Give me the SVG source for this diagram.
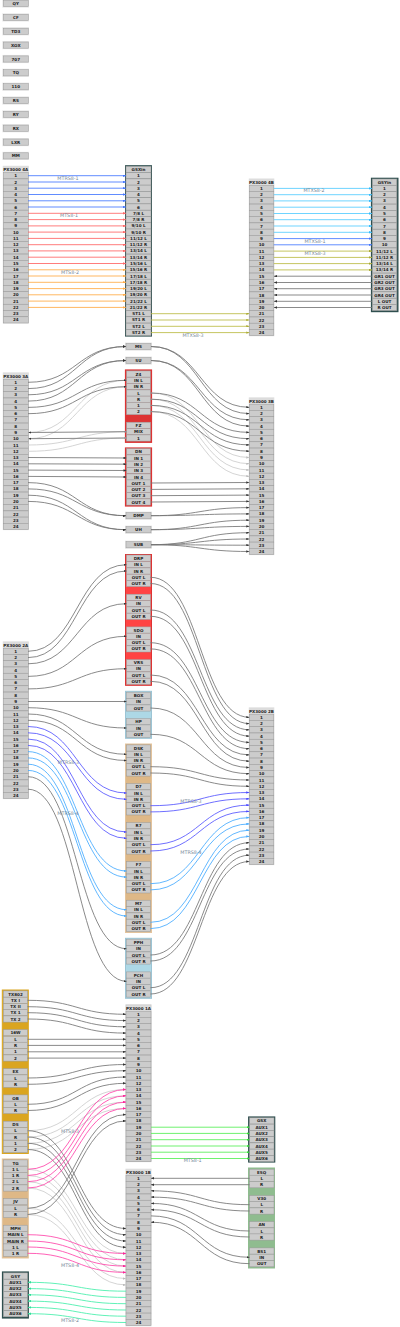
<svg xmlns="http://www.w3.org/2000/svg" width="400" height="1327" viewBox="0 0 400 1327">
<style>
text{font-family:"DejaVu Sans",sans-serif;font-size:4.1px;font-weight:bold;fill:#222;text-anchor:middle}
text.l{font-weight:normal;font-size:4.8px;fill:#778899}
.n rect{fill:#ccc;stroke:#999;stroke-width:.5}
.n rect.h{fill:#e8e8e8;stroke:#e8e8e8;stroke-width:1}
.n rect.p{fill:#ddd;stroke:#ddd;stroke-width:1}
.n rect.r{fill:#d33;stroke:#d33;stroke-width:1.2}
.n rect.f{fill:#f44;stroke:#d33;stroke-width:1}
.n rect.b{fill:#add8e6;stroke:#9cc4d4;stroke-width:1}
.n rect.t{fill:#deb887;stroke:#e3c39c;stroke-width:1}
.n rect.g{fill:#daa520;stroke:#daa520;stroke-width:1}
.n rect.d{fill:#2f4f4f;stroke:#2f4f4f;stroke-width:1.2}
.n rect.s{fill:#8fbc8f;stroke:#8fbc8f;stroke-width:1}
#links path{fill:none;stroke-width:.85}
.k{stroke:#757575;marker-end:url(#ak)}.w{stroke:#ccc;marker-end:url(#aw)}.u{stroke:#47f;marker-end:url(#au)}.e{stroke:#f66;marker-end:url(#ae)}.o{stroke:#fa4;marker-end:url(#ao)}.y{stroke:#bb4;marker-end:url(#ay)}.c{stroke:#5cf;marker-end:url(#ac)}.v{stroke:#55f;marker-end:url(#av)}.a{stroke:#4af;marker-end:url(#aa)}.m{stroke:#f4a;marker-end:url(#am)}.q{stroke:#5e5;marker-end:url(#aq)}.z{stroke:#4ea;marker-end:url(#az)}
</style>
<defs>
<marker id="ak" markerUnits="userSpaceOnUse" markerWidth="3" markerHeight="2.4" refX="3" refY="1.2" orient="auto"><path d="M0 0L3 1.2L0 2.4z" fill="#333"/></marker>
<marker id="aw" markerUnits="userSpaceOnUse" markerWidth="3" markerHeight="2.4" refX="3" refY="1.2" orient="auto"><path d="M0 0L3 1.2L0 2.4z" fill="#bbb"/></marker>
<marker id="au" markerUnits="userSpaceOnUse" markerWidth="3" markerHeight="2.4" refX="3" refY="1.2" orient="auto"><path d="M0 0L3 1.2L0 2.4z" fill="#47f"/></marker>
<marker id="ae" markerUnits="userSpaceOnUse" markerWidth="3" markerHeight="2.4" refX="3" refY="1.2" orient="auto"><path d="M0 0L3 1.2L0 2.4z" fill="#f66"/></marker>
<marker id="ao" markerUnits="userSpaceOnUse" markerWidth="3" markerHeight="2.4" refX="3" refY="1.2" orient="auto"><path d="M0 0L3 1.2L0 2.4z" fill="#fa4"/></marker>
<marker id="ay" markerUnits="userSpaceOnUse" markerWidth="3" markerHeight="2.4" refX="3" refY="1.2" orient="auto"><path d="M0 0L3 1.2L0 2.4z" fill="#aa3"/></marker>
<marker id="ac" markerUnits="userSpaceOnUse" markerWidth="3" markerHeight="2.4" refX="3" refY="1.2" orient="auto"><path d="M0 0L3 1.2L0 2.4z" fill="#3bf"/></marker>
<marker id="av" markerUnits="userSpaceOnUse" markerWidth="3" markerHeight="2.4" refX="3" refY="1.2" orient="auto"><path d="M0 0L3 1.2L0 2.4z" fill="#44f"/></marker>
<marker id="aa" markerUnits="userSpaceOnUse" markerWidth="3" markerHeight="2.4" refX="3" refY="1.2" orient="auto"><path d="M0 0L3 1.2L0 2.4z" fill="#4af"/></marker>
<marker id="am" markerUnits="userSpaceOnUse" markerWidth="3" markerHeight="2.4" refX="3" refY="1.2" orient="auto"><path d="M0 0L3 1.2L0 2.4z" fill="#f29"/></marker>
<marker id="aq" markerUnits="userSpaceOnUse" markerWidth="3" markerHeight="2.4" refX="3" refY="1.2" orient="auto"><path d="M0 0L3 1.2L0 2.4z" fill="#3d3"/></marker>
<marker id="az" markerUnits="userSpaceOnUse" markerWidth="3" markerHeight="2.4" refX="3" refY="1.2" orient="auto"><path d="M0 0L3 1.2L0 2.4z" fill="#3d9"/></marker>
</defs>
<g class="n" id="QY"><rect class="h" x="2.8" y="-.1" width="25.7" height="7.2"/><rect x="3.3" y=".4" width="25" height="6.2"/><text x="15.8" y="5">QY</text></g>
<g class="n" id="CF"><rect class="h" x="2.8" y="13.8" width="25.7" height="7.2"/><rect x="3.3" y="14.3" width="25" height="6.2"/><text x="15.8" y="18.9">CF</text></g>
<g class="n" id="TD3"><rect class="h" x="2.8" y="27.7" width="25.7" height="7.2"/><rect x="3.3" y="28.2" width="25" height="6.2"/><text x="15.8" y="32.8">TD3</text></g>
<g class="n" id="XOX"><rect class="h" x="2.8" y="41.5" width="25.7" height="7.2"/><rect x="3.3" y="42" width="25" height="6.2"/><text x="15.8" y="46.6">XOX</text></g>
<g class="n" id="N707"><rect class="h" x="2.8" y="55.4" width="25.7" height="7.2"/><rect x="3.3" y="55.9" width="25" height="6.2"/><text x="15.8" y="60.5">707</text></g>
<g class="n" id="TQ"><rect class="h" x="2.8" y="69.2" width="25.7" height="7.2"/><rect x="3.3" y="69.7" width="25" height="6.2"/><text x="15.8" y="74.3">TQ</text></g>
<g class="n" id="N110"><rect class="h" x="2.8" y="83.1" width="25.7" height="7.2"/><rect x="3.3" y="83.6" width="25" height="6.2"/><text x="15.8" y="88.2">110</text></g>
<g class="n" id="RS"><rect class="h" x="2.8" y="96.9" width="25.7" height="7.2"/><rect x="3.3" y="97.4" width="25" height="6.2"/><text x="15.8" y="102">RS</text></g>
<g class="n" id="RY"><rect class="h" x="2.8" y="110.8" width="25.7" height="7.2"/><rect x="3.3" y="111.3" width="25" height="6.2"/><text x="15.8" y="115.9">RY</text></g>
<g class="n" id="RX"><rect class="h" x="2.8" y="124.6" width="25.7" height="7.2"/><rect x="3.3" y="125.1" width="25" height="6.2"/><text x="15.8" y="129.7">RX</text></g>
<g class="n" id="LXR"><rect class="h" x="2.8" y="138.5" width="25.7" height="7.2"/><rect x="3.3" y="139" width="25" height="6.2"/><text x="15.8" y="143.6">LXR</text></g>
<g class="n" id="MM"><rect class="h" x="2.8" y="152.3" width="25.7" height="7.2"/><rect x="3.3" y="152.8" width="25" height="6.2"/><text x="15.8" y="157.4">MM</text></g>

<g class="n" id="PX4A" transform="translate(3.3,0)"><rect class="p" y="166.3" width="25" height="156.7"/><text x="12.5" y="170.9">PX3000 4A</text>
<rect y="172.6" width="25" height="6.2"/><text x="12.5" y="177.2">1</text><rect y="178.9" width="25" height="6.2"/><text x="12.5" y="183.5">2</text><rect y="185.1" width="25" height="6.2"/><text x="12.5" y="189.7">3</text><rect y="191.4" width="25" height="6.2"/><text x="12.5" y="196">4</text><rect y="197.7" width="25" height="6.2"/><text x="12.5" y="202.3">5</text><rect y="203.9" width="25" height="6.2"/><text x="12.5" y="208.5">6</text><rect y="210.2" width="25" height="6.2"/><text x="12.5" y="214.8">7</text><rect y="216.5" width="25" height="6.2"/><text x="12.5" y="221.1">8</text><rect y="222.8" width="25" height="6.2"/><text x="12.5" y="227.4">9</text><rect y="229" width="25" height="6.2"/><text x="12.5" y="233.6">10</text><rect y="235.3" width="25" height="6.2"/><text x="12.5" y="239.9">11</text><rect y="241.6" width="25" height="6.2"/><text x="12.5" y="246.2">12</text><rect y="247.8" width="25" height="6.2"/><text x="12.5" y="252.4">13</text><rect y="254.1" width="25" height="6.2"/><text x="12.5" y="258.7">14</text><rect y="260.4" width="25" height="6.2"/><text x="12.5" y="265">15</text><rect y="266.7" width="25" height="6.2"/><text x="12.5" y="271.3">16</text><rect y="272.9" width="25" height="6.2"/><text x="12.5" y="277.5">17</text><rect y="279.2" width="25" height="6.2"/><text x="12.5" y="283.8">18</text><rect y="285.5" width="25" height="6.2"/><text x="12.5" y="290.1">19</text><rect y="291.7" width="25" height="6.2"/><text x="12.5" y="296.3">20</text><rect y="298" width="25" height="6.2"/><text x="12.5" y="302.6">21</text><rect y="304.3" width="25" height="6.2"/><text x="12.5" y="308.9">22</text><rect y="310.5" width="25" height="6.2"/><text x="12.5" y="315.1">23</text><rect y="316.8" width="25" height="6.2"/><text x="12.5" y="321.4">24</text></g>

<g class="n" id="GSXin" transform="translate(126,0)"><rect class="d" x="-.4" y="165.8" width="25.8" height="170.2"/><rect y="166.3" width="25" height="6.2"/><text x="12.5" y="170.9">GSXin</text>
<rect y="172.6" width="25" height="6.2"/><text x="12.5" y="177.2">1</text><rect y="178.9" width="25" height="6.2"/><text x="12.5" y="183.5">2</text><rect y="185.1" width="25" height="6.2"/><text x="12.5" y="189.7">3</text><rect y="191.4" width="25" height="6.2"/><text x="12.5" y="196">4</text><rect y="197.7" width="25" height="6.2"/><text x="12.5" y="202.3">5</text><rect y="203.9" width="25" height="6.2"/><text x="12.5" y="208.5">6</text><rect y="210.2" width="25" height="6.2"/><text x="12.5" y="214.8">7/8 L</text><rect y="216.5" width="25" height="6.2"/><text x="12.5" y="221.1">7/8 R</text><rect y="222.8" width="25" height="6.2"/><text x="12.5" y="227.4">9/10 L</text><rect y="229" width="25" height="6.2"/><text x="12.5" y="233.6">9/10 R</text><rect y="235.3" width="25" height="6.2"/><text x="12.5" y="239.9">11/12 L</text><rect y="241.6" width="25" height="6.2"/><text x="12.5" y="246.2">11/12 R</text><rect y="247.8" width="25" height="6.2"/><text x="12.5" y="252.4">13/14 L</text><rect y="254.1" width="25" height="6.2"/><text x="12.5" y="258.7">13/14 R</text><rect y="260.4" width="25" height="6.2"/><text x="12.5" y="265">15/16 L</text><rect y="266.7" width="25" height="6.2"/><text x="12.5" y="271.3">15/16 R</text><rect y="272.9" width="25" height="6.2"/><text x="12.5" y="277.5">17/18 L</text><rect y="279.2" width="25" height="6.2"/><text x="12.5" y="283.8">17/18 R</text><rect y="285.5" width="25" height="6.2"/><text x="12.5" y="290.1">19/20 L</text><rect y="291.7" width="25" height="6.2"/><text x="12.5" y="296.3">19/20 R</text><rect y="298" width="25" height="6.2"/><text x="12.5" y="302.6">21/22 L</text><rect y="304.3" width="25" height="6.2"/><text x="12.5" y="308.9">21/22 R</text><rect y="310.5" width="25" height="6.2"/><text x="12.5" y="315.1">ST1 L</text><rect y="316.8" width="25" height="6.2"/><text x="12.5" y="321.4">ST1 R</text><rect y="323.1" width="25" height="6.2"/><text x="12.5" y="327.7">ST2 L</text><rect y="329.4" width="25" height="6.2"/><text x="12.5" y="334">ST2 R</text></g>

<g class="n" id="PX4B" transform="translate(249.3,0)"><rect class="p" y="179" width="24.5" height="156.7"/><text x="12.2" y="183.6">PX3000 4B</text>
<rect y="185.3" width="24.5" height="6.2"/><text x="12.2" y="189.9">1</text><rect y="191.6" width="24.5" height="6.2"/><text x="12.2" y="196.2">2</text><rect y="197.8" width="24.5" height="6.2"/><text x="12.2" y="202.4">3</text><rect y="204.1" width="24.5" height="6.2"/><text x="12.2" y="208.7">4</text><rect y="210.4" width="24.5" height="6.2"/><text x="12.2" y="215">5</text><rect y="216.6" width="24.5" height="6.2"/><text x="12.2" y="221.2">6</text><rect y="222.9" width="24.5" height="6.2"/><text x="12.2" y="227.5">7</text><rect y="229.2" width="24.5" height="6.2"/><text x="12.2" y="233.8">8</text><rect y="235.5" width="24.5" height="6.2"/><text x="12.2" y="240.1">9</text><rect y="241.7" width="24.5" height="6.2"/><text x="12.2" y="246.3">10</text><rect y="248" width="24.5" height="6.2"/><text x="12.2" y="252.6">11</text><rect y="254.3" width="24.5" height="6.2"/><text x="12.2" y="258.9">12</text><rect y="260.5" width="24.5" height="6.2"/><text x="12.2" y="265.1">13</text><rect y="266.8" width="24.5" height="6.2"/><text x="12.2" y="271.4">14</text><rect y="273.1" width="24.5" height="6.2"/><text x="12.2" y="277.7">15</text><rect y="279.4" width="24.5" height="6.2"/><text x="12.2" y="284">16</text><rect y="285.6" width="24.5" height="6.2"/><text x="12.2" y="290.2">17</text><rect y="291.9" width="24.5" height="6.2"/><text x="12.2" y="296.5">18</text><rect y="298.2" width="24.5" height="6.2"/><text x="12.2" y="302.8">19</text><rect y="304.4" width="24.5" height="6.2"/><text x="12.2" y="309">20</text><rect y="310.7" width="24.5" height="6.2"/><text x="12.2" y="315.3">21</text><rect y="317" width="24.5" height="6.2"/><text x="12.2" y="321.6">22</text><rect y="323.2" width="24.5" height="6.2"/><text x="12.2" y="327.8">23</text><rect y="329.5" width="24.5" height="6.2"/><text x="12.2" y="334.1">24</text></g>

<g class="n" id="GSYin" transform="translate(372.3,0)"><rect class="d" x="-.8" y="178.3" width="26.4" height="133.3"/><rect y="179" width="24.5" height="6.2"/><text x="12.2" y="183.6">GSYin</text>
<rect y="185.3" width="24.5" height="6.2"/><text x="12.2" y="189.9">1</text><rect y="191.6" width="24.5" height="6.2"/><text x="12.2" y="196.2">2</text><rect y="197.8" width="24.5" height="6.2"/><text x="12.2" y="202.4">3</text><rect y="204.1" width="24.5" height="6.2"/><text x="12.2" y="208.7">4</text><rect y="210.4" width="24.5" height="6.2"/><text x="12.2" y="215">5</text><rect y="216.6" width="24.5" height="6.2"/><text x="12.2" y="221.2">6</text><rect y="222.9" width="24.5" height="6.2"/><text x="12.2" y="227.5">7</text><rect y="229.2" width="24.5" height="6.2"/><text x="12.2" y="233.8">8</text><rect y="235.5" width="24.5" height="6.2"/><text x="12.2" y="240.1">9</text><rect y="241.7" width="24.5" height="6.2"/><text x="12.2" y="246.3">10</text><rect y="248" width="24.5" height="6.2"/><text x="12.2" y="252.6">11/12 L</text><rect y="254.3" width="24.5" height="6.2"/><text x="12.2" y="258.9">11/12 R</text><rect y="260.5" width="24.5" height="6.2"/><text x="12.2" y="265.1">13/14 L</text><rect y="266.8" width="24.5" height="6.2"/><text x="12.2" y="271.4">13/14 R</text><rect y="273.1" width="24.5" height="6.2"/><text x="12.2" y="277.7">GR1 OUT</text><rect y="279.4" width="24.5" height="6.2"/><text x="12.2" y="284">GR2 OUT</text><rect y="285.6" width="24.5" height="6.2"/><text x="12.2" y="290.2">GR3 OUT</text><rect y="291.9" width="24.5" height="6.2"/><text x="12.2" y="296.5">GR4 OUT</text><rect y="298.2" width="24.5" height="6.2"/><text x="12.2" y="302.8">L OUT</text><rect y="304.4" width="24.5" height="6.2"/><text x="12.2" y="309">R OUT</text></g>

<g class="n" id="MS"><rect class="h" x="125.5" y="343" width="26" height="7.2"/><rect x="126" y="343.4" width="25" height="6.2"/><text x="138.5" y="348">MS</text></g>
<g class="n" id="SU"><rect class="h" x="125.5" y="357" width="26" height="7.2"/><rect x="126" y="357.4" width="25" height="6.2"/><text x="138.5" y="362">SU</text></g>

<g class="n" id="PX3A" transform="translate(3.3,0)"><rect class="p" y="372.9" width="25" height="156.7"/><text x="12.5" y="377.5">PX3000 3A</text>
<rect y="379.2" width="25" height="6.2"/><text x="12.5" y="383.8">1</text><rect y="385.5" width="25" height="6.2"/><text x="12.5" y="390.1">2</text><rect y="391.7" width="25" height="6.2"/><text x="12.5" y="396.3">3</text><rect y="398" width="25" height="6.2"/><text x="12.5" y="402.6">4</text><rect y="404.3" width="25" height="6.2"/><text x="12.5" y="408.9">5</text><rect y="410.6" width="25" height="6.2"/><text x="12.5" y="415.2">6</text><rect y="416.8" width="25" height="6.2"/><text x="12.5" y="421.4">7</text><rect y="423.1" width="25" height="6.2"/><text x="12.5" y="427.7">8</text><rect y="429.4" width="25" height="6.2"/><text x="12.5" y="434">9</text><rect y="435.6" width="25" height="6.2"/><text x="12.5" y="440.2">10</text><rect y="441.9" width="25" height="6.2"/><text x="12.5" y="446.5">11</text><rect y="448.2" width="25" height="6.2"/><text x="12.5" y="452.8">12</text><rect y="454.4" width="25" height="6.2"/><text x="12.5" y="459">13</text><rect y="460.7" width="25" height="6.2"/><text x="12.5" y="465.3">14</text><rect y="467" width="25" height="6.2"/><text x="12.5" y="471.6">15</text><rect y="473.3" width="25" height="6.2"/><text x="12.5" y="477.9">16</text><rect y="479.5" width="25" height="6.2"/><text x="12.5" y="484.1">17</text><rect y="485.8" width="25" height="6.2"/><text x="12.5" y="490.4">18</text><rect y="492.1" width="25" height="6.2"/><text x="12.5" y="496.7">19</text><rect y="498.3" width="25" height="6.2"/><text x="12.5" y="502.9">20</text><rect y="504.6" width="25" height="6.2"/><text x="12.5" y="509.2">21</text><rect y="510.9" width="25" height="6.2"/><text x="12.5" y="515.5">22</text><rect y="517.1" width="25" height="6.2"/><text x="12.5" y="521.7">23</text><rect y="523.4" width="25" height="6.2"/><text x="12.5" y="528">24</text></g>

<g class="n" id="Z4" transform="translate(126.5,0)"><rect class="r" x="-1" y="370" width="26" height="72.3"/><rect y="370.9" width="24" height="6.2"/><text x="12" y="375.5">Z4</text><rect y="377.2" width="24" height="6.2"/><text x="12" y="381.8">IN L</text><rect y="383.5" width="24" height="6.2"/><text x="12" y="388.1">IN R</text><rect y="389.9" width="24" height="6.2"/><text x="12" y="394.5">L</text><rect y="396.1" width="24" height="6.2"/><text x="12" y="400.7">R</text><rect y="402.3" width="24" height="6.2"/><text x="12" y="406.9">1</text><rect y="408.5" width="24" height="6.2"/><text x="12" y="413.1">2</text></g>
<g class="n" id="FZ" transform="translate(126.5,0)"><rect y="422.2" width="24" height="6.2"/><text x="12" y="426.8">FZ</text><rect y="428.6" width="24" height="6.2"/><text x="12" y="433.2">MIX</text><rect y="434.9" width="24" height="6.2"/><text x="12" y="439.5">1</text></g>
<g class="n" id="DN" transform="translate(126.5,0)"><rect class="r" x="-1" y="448" width="26" height="58"/><rect y="448.6" width="24" height="6.2"/><text x="12" y="453.2">DN</text><rect y="454.9" width="24" height="6.2"/><text x="12" y="459.5">IN 1</text><rect y="461.1" width="24" height="6.2"/><text x="12" y="465.7">IN 2</text><rect y="467.4" width="24" height="6.2"/><text x="12" y="472">IN 3</text><rect y="473.9" width="24" height="6.2"/><text x="12" y="478.5">IN 4</text><rect y="479.9" width="24" height="6.2"/><text x="12" y="484.5">OUT 1</text><rect y="486.3" width="24" height="6.2"/><text x="12" y="490.9">OUT 2</text><rect y="492.6" width="24" height="6.2"/><text x="12" y="497.2">OUT 3</text><rect y="498.9" width="24" height="6.2"/><text x="12" y="503.5">OUT 4</text></g>
<g class="n" id="DMP"><rect class="h" x="125.5" y="512.1" width="26" height="7.2"/><rect x="126" y="512.6" width="25" height="6.2"/><text x="138.5" y="517.2">DMP</text></g>
<g class="n" id="UH"><rect class="h" x="125.5" y="526.1" width="26" height="7.2"/><rect x="126" y="526.6" width="25" height="6.2"/><text x="138.5" y="531.2">UH</text></g>
<g class="n" id="SUB"><rect class="h" x="125.5" y="541.1" width="26" height="7.2"/><rect x="126" y="541.6" width="25" height="6.2"/><text x="138.5" y="546.2">SUB</text></g>

<g class="n" id="PX3B" transform="translate(249.3,0)"><rect class="p" y="397.9" width="24.5" height="156.7"/><text x="12.2" y="402.5">PX3000 3B</text>
<rect y="404.2" width="24.5" height="6.2"/><text x="12.2" y="408.8">1</text><rect y="410.5" width="24.5" height="6.2"/><text x="12.2" y="415.1">2</text><rect y="416.7" width="24.5" height="6.2"/><text x="12.2" y="421.3">3</text><rect y="423" width="24.5" height="6.2"/><text x="12.2" y="427.6">4</text><rect y="429.3" width="24.5" height="6.2"/><text x="12.2" y="433.9">5</text><rect y="435.6" width="24.5" height="6.2"/><text x="12.2" y="440.2">6</text><rect y="441.8" width="24.5" height="6.2"/><text x="12.2" y="446.4">7</text><rect y="448.1" width="24.5" height="6.2"/><text x="12.2" y="452.7">8</text><rect y="454.4" width="24.5" height="6.2"/><text x="12.2" y="459">9</text><rect y="460.6" width="24.5" height="6.2"/><text x="12.2" y="465.2">10</text><rect y="466.9" width="24.5" height="6.2"/><text x="12.2" y="471.5">11</text><rect y="473.2" width="24.5" height="6.2"/><text x="12.2" y="477.8">12</text><rect y="479.4" width="24.5" height="6.2"/><text x="12.2" y="484">13</text><rect y="485.7" width="24.5" height="6.2"/><text x="12.2" y="490.3">14</text><rect y="492" width="24.5" height="6.2"/><text x="12.2" y="496.6">15</text><rect y="498.3" width="24.5" height="6.2"/><text x="12.2" y="502.9">16</text><rect y="504.5" width="24.5" height="6.2"/><text x="12.2" y="509.1">17</text><rect y="510.8" width="24.5" height="6.2"/><text x="12.2" y="515.4">18</text><rect y="517.1" width="24.5" height="6.2"/><text x="12.2" y="521.7">19</text><rect y="523.3" width="24.5" height="6.2"/><text x="12.2" y="527.9">20</text><rect y="529.6" width="24.5" height="6.2"/><text x="12.2" y="534.2">21</text><rect y="535.9" width="24.5" height="6.2"/><text x="12.2" y="540.5">22</text><rect y="542.1" width="24.5" height="6.2"/><text x="12.2" y="546.7">23</text><rect y="548.4" width="24.5" height="6.2"/><text x="12.2" y="553">24</text></g>

<g class="n" id="DRP" transform="translate(126.5,0)"><rect class="f" x="-1" y="554.5" width="26" height="130.8"/><rect y="555" width="24" height="6.2"/><text x="12" y="559.6">DRP</text><rect y="561.6" width="24" height="6.2"/><text x="12" y="566.2">IN L</text><rect y="567.9" width="24" height="6.2"/><text x="12" y="572.5">IN R</text><rect y="574.2" width="24" height="6.2"/><text x="12" y="578.8">OUT L</text><rect y="580.4" width="24" height="6.2"/><text x="12" y="585">OUT R</text></g>
<g class="n" id="RV" transform="translate(126.5,0)"><rect y="594.2" width="24" height="6.2"/><text x="12" y="598.8">RV</text><rect y="600.6" width="24" height="6.2"/><text x="12" y="605.2">IN</text><rect y="606.9" width="24" height="6.2"/><text x="12" y="611.5">OUT L</text><rect y="613.2" width="24" height="6.2"/><text x="12" y="617.8">OUT R</text></g>
<g class="n" id="SDO" transform="translate(126.5,0)"><rect y="626.9" width="24" height="6.2"/><text x="12" y="631.5">SDO</text><rect y="633.2" width="24" height="6.2"/><text x="12" y="637.8">IN</text><rect y="639.6" width="24" height="6.2"/><text x="12" y="644.2">OUT L</text><rect y="645.8" width="24" height="6.2"/><text x="12" y="650.4">OUT R</text></g>
<g class="n" id="VRS" transform="translate(126.5,0)"><rect y="659.6" width="24" height="6.2"/><text x="12" y="664.2">VRS</text><rect y="665.6" width="24" height="6.2"/><text x="12" y="670.2">IN</text><rect y="671.9" width="24" height="6.2"/><text x="12" y="676.5">OUT L</text><rect y="678.2" width="24" height="6.2"/><text x="12" y="682.8">OUT R</text></g>

<g class="n" id="PX2A" transform="translate(3.3,0)"><rect class="p" y="641.9" width="25" height="156.7"/><text x="12.5" y="646.5">PX3000 2A</text>
<rect y="648.2" width="25" height="6.2"/><text x="12.5" y="652.8">1</text><rect y="654.5" width="25" height="6.2"/><text x="12.5" y="659.1">2</text><rect y="660.7" width="25" height="6.2"/><text x="12.5" y="665.3">3</text><rect y="667" width="25" height="6.2"/><text x="12.5" y="671.6">4</text><rect y="673.3" width="25" height="6.2"/><text x="12.5" y="677.9">5</text><rect y="679.6" width="25" height="6.2"/><text x="12.5" y="684.2">6</text><rect y="685.8" width="25" height="6.2"/><text x="12.5" y="690.4">7</text><rect y="692.1" width="25" height="6.2"/><text x="12.5" y="696.7">8</text><rect y="698.4" width="25" height="6.2"/><text x="12.5" y="703">9</text><rect y="704.6" width="25" height="6.2"/><text x="12.5" y="709.2">10</text><rect y="710.9" width="25" height="6.2"/><text x="12.5" y="715.5">11</text><rect y="717.2" width="25" height="6.2"/><text x="12.5" y="721.8">12</text><rect y="723.4" width="25" height="6.2"/><text x="12.5" y="728">13</text><rect y="729.7" width="25" height="6.2"/><text x="12.5" y="734.3">14</text><rect y="736" width="25" height="6.2"/><text x="12.5" y="740.6">15</text><rect y="742.3" width="25" height="6.2"/><text x="12.5" y="746.9">16</text><rect y="748.5" width="25" height="6.2"/><text x="12.5" y="753.1">17</text><rect y="754.8" width="25" height="6.2"/><text x="12.5" y="759.4">18</text><rect y="761.1" width="25" height="6.2"/><text x="12.5" y="765.7">19</text><rect y="767.3" width="25" height="6.2"/><text x="12.5" y="771.9">20</text><rect y="773.6" width="25" height="6.2"/><text x="12.5" y="778.2">21</text><rect y="779.9" width="25" height="6.2"/><text x="12.5" y="784.5">22</text><rect y="786.1" width="25" height="6.2"/><text x="12.5" y="790.7">23</text><rect y="792.4" width="25" height="6.2"/><text x="12.5" y="797">24</text></g>

<g class="n" id="BOX" transform="translate(126.5,0)"><rect class="b" x="-1" y="691.3" width="26" height="47"/><rect y="692.2" width="24" height="6.2"/><text x="12" y="696.8">BOX</text><rect y="698.6" width="24" height="6.2"/><text x="12" y="703.2">IN</text><rect y="704.9" width="24" height="6.2"/><text x="12" y="709.5">OUT</text></g>
<g class="n" id="HP" transform="translate(126.5,0)"><rect y="718.6" width="24" height="6.2"/><text x="12" y="723.2">HP</text><rect y="724.9" width="24" height="6.2"/><text x="12" y="729.5">IN</text><rect y="731.2" width="24" height="6.2"/><text x="12" y="735.8">OUT</text></g>
<g class="n" id="DSK" transform="translate(126.5,0)"><rect class="t" x="-1" y="744" width="26" height="188.5"/><rect y="744.9" width="24" height="6.2"/><text x="12" y="749.5">DSK</text><rect y="751.2" width="24" height="6.2"/><text x="12" y="755.8">IN L</text><rect y="757.4" width="24" height="6.2"/><text x="12" y="762">IN R</text><rect y="763.6" width="24" height="6.2"/><text x="12" y="768.2">OUT L</text><rect y="769.9" width="24" height="6.2"/><text x="12" y="774.5">OUT R</text></g>
<g class="n" id="D7" transform="translate(126.5,0)"><rect y="783.6" width="24" height="6.2"/><text x="12" y="788.2">D7</text><rect y="789.9" width="24" height="6.2"/><text x="12" y="794.5">IN L</text><rect y="796.2" width="24" height="6.2"/><text x="12" y="800.8">IN R</text><rect y="802.6" width="24" height="6.2"/><text x="12" y="807.2">OUT L</text><rect y="808.8" width="24" height="6.2"/><text x="12" y="813.4">OUT R</text></g>
<g class="n" id="R7" transform="translate(126.5,0)"><rect y="822.6" width="24" height="6.2"/><text x="12" y="827.2">R7</text><rect y="828.9" width="24" height="6.2"/><text x="12" y="833.5">IN L</text><rect y="835.2" width="24" height="6.2"/><text x="12" y="839.8">IN R</text><rect y="841.6" width="24" height="6.2"/><text x="12" y="846.2">OUT L</text><rect y="847.9" width="24" height="6.2"/><text x="12" y="852.5">OUT R</text></g>
<g class="n" id="F7" transform="translate(126.5,0)"><rect y="861.6" width="24" height="6.2"/><text x="12" y="866.2">F7</text><rect y="867.9" width="24" height="6.2"/><text x="12" y="872.5">IN L</text><rect y="874" width="24" height="6.2"/><text x="12" y="878.6">IN R</text><rect y="880.6" width="24" height="6.2"/><text x="12" y="885.2">OUT L</text><rect y="886.8" width="24" height="6.2"/><text x="12" y="891.4">OUT R</text></g>
<g class="n" id="M7" transform="translate(126.5,0)"><rect y="900.2" width="24" height="6.2"/><text x="12" y="904.8">M7</text><rect y="906.6" width="24" height="6.2"/><text x="12" y="911.2">IN L</text><rect y="912.9" width="24" height="6.2"/><text x="12" y="917.5">IN R</text><rect y="919.2" width="24" height="6.2"/><text x="12" y="923.8">OUT L</text><rect y="925.5" width="24" height="6.2"/><text x="12" y="930.1">OUT R</text></g>
<g class="n" id="PPH" transform="translate(126.5,0)"><rect class="b" x="-1" y="938.3" width="26" height="60"/><rect y="939.2" width="24" height="6.2"/><text x="12" y="943.8">PPH</text><rect y="945.6" width="24" height="6.2"/><text x="12" y="950.2">IN</text><rect y="951.9" width="24" height="6.2"/><text x="12" y="956.5">OUT L</text><rect y="957.9" width="24" height="6.2"/><text x="12" y="962.5">OUT R</text></g>
<g class="n" id="PCH" transform="translate(126.5,0)"><rect y="971.9" width="24" height="6.2"/><text x="12" y="976.5">PCH</text><rect y="978.2" width="24" height="6.2"/><text x="12" y="982.8">IN</text><rect y="984.6" width="24" height="6.2"/><text x="12" y="989.2">OUT L</text><rect y="990.9" width="24" height="6.2"/><text x="12" y="995.5">OUT R</text></g>

<g class="n" id="PX2B" transform="translate(249.3,0)"><rect class="p" y="707.9" width="24.5" height="156.7"/><text x="12.2" y="712.5">PX3000 2B</text>
<rect y="714.2" width="24.5" height="6.2"/><text x="12.2" y="718.8">1</text><rect y="720.5" width="24.5" height="6.2"/><text x="12.2" y="725.1">2</text><rect y="726.7" width="24.5" height="6.2"/><text x="12.2" y="731.3">3</text><rect y="733" width="24.5" height="6.2"/><text x="12.2" y="737.6">4</text><rect y="739.3" width="24.5" height="6.2"/><text x="12.2" y="743.9">5</text><rect y="745.6" width="24.5" height="6.2"/><text x="12.2" y="750.2">6</text><rect y="751.8" width="24.5" height="6.2"/><text x="12.2" y="756.4">7</text><rect y="758.1" width="24.5" height="6.2"/><text x="12.2" y="762.7">8</text><rect y="764.4" width="24.5" height="6.2"/><text x="12.2" y="769">9</text><rect y="770.6" width="24.5" height="6.2"/><text x="12.2" y="775.2">10</text><rect y="776.9" width="24.5" height="6.2"/><text x="12.2" y="781.5">11</text><rect y="783.2" width="24.5" height="6.2"/><text x="12.2" y="787.8">12</text><rect y="789.4" width="24.5" height="6.2"/><text x="12.2" y="794">13</text><rect y="795.7" width="24.5" height="6.2"/><text x="12.2" y="800.3">14</text><rect y="802" width="24.5" height="6.2"/><text x="12.2" y="806.6">15</text><rect y="808.3" width="24.5" height="6.2"/><text x="12.2" y="812.9">16</text><rect y="814.5" width="24.5" height="6.2"/><text x="12.2" y="819.1">17</text><rect y="820.8" width="24.5" height="6.2"/><text x="12.2" y="825.4">18</text><rect y="827.1" width="24.5" height="6.2"/><text x="12.2" y="831.7">19</text><rect y="833.3" width="24.5" height="6.2"/><text x="12.2" y="837.9">20</text><rect y="839.6" width="24.5" height="6.2"/><text x="12.2" y="844.2">21</text><rect y="845.9" width="24.5" height="6.2"/><text x="12.2" y="850.5">22</text><rect y="852.1" width="24.5" height="6.2"/><text x="12.2" y="856.7">23</text><rect y="858.4" width="24.5" height="6.2"/><text x="12.2" y="863">24</text></g>

<g class="n" id="TX802" transform="translate(3.3,0)"><rect class="g" x="-1" y="990" width="26" height="163.5"/><rect y="990.9" width="24.3" height="6.2"/><text x="12.2" y="995.5">TX802</text><rect y="997.2" width="24.3" height="6.2"/><text x="12.2" y="1001.8">TX I</text><rect y="1003.6" width="24.3" height="6.2"/><text x="12.2" y="1008.2">TX II</text><rect y="1009.6" width="24.3" height="6.2"/><text x="12.2" y="1014.2">TX 1</text><rect y="1015.9" width="24.3" height="6.2"/><text x="12.2" y="1020.5">TX 2</text></g>
<g class="n" id="W16" transform="translate(3.3,0)"><rect y="1029.6" width="24.3" height="6.2"/><text x="12.2" y="1034.2">16W</text><rect y="1036.2" width="24.3" height="6.2"/><text x="12.2" y="1040.8">L</text><rect y="1042.2" width="24.3" height="6.2"/><text x="12.2" y="1046.8">R</text><rect y="1048.6" width="24.3" height="6.2"/><text x="12.2" y="1053.2">1</text><rect y="1054.9" width="24.3" height="6.2"/><text x="12.2" y="1059.5">2</text></g>
<g class="n" id="EX" transform="translate(3.3,0)"><rect y="1068.6" width="24.3" height="6.2"/><text x="12.2" y="1073.2">EX</text><rect y="1074.9" width="24.3" height="6.2"/><text x="12.2" y="1079.5">L</text><rect y="1081.2" width="24.3" height="6.2"/><text x="12.2" y="1085.8">R</text></g>
<g class="n" id="OB" transform="translate(3.3,0)"><rect y="1094.9" width="24.3" height="6.2"/><text x="12.2" y="1099.5">OB</text><rect y="1101.2" width="24.3" height="6.2"/><text x="12.2" y="1105.8">L</text><rect y="1107.4" width="24.3" height="6.2"/><text x="12.2" y="1112">R</text></g>
<g class="n" id="DS" transform="translate(3.3,0)"><rect y="1121.2" width="24.3" height="6.2"/><text x="12.2" y="1125.8">DS</text><rect y="1127.6" width="24.3" height="6.2"/><text x="12.2" y="1132.2">L</text><rect y="1133.9" width="24.3" height="6.2"/><text x="12.2" y="1138.5">R</text><rect y="1140.2" width="24.3" height="6.2"/><text x="12.2" y="1144.8">1</text><rect y="1146.4" width="24.3" height="6.2"/><text x="12.2" y="1151">2</text></g>

<g class="n" id="TG" transform="translate(3.3,0)"><rect class="t" x="-1" y="1159" width="26" height="99"/><rect y="1159.9" width="24.3" height="6.2"/><text x="12.2" y="1164.5">TG</text><rect y="1166.2" width="24.3" height="6.2"/><text x="12.2" y="1170.8">1 L</text><rect y="1172.4" width="24.3" height="6.2"/><text x="12.2" y="1177">1 R</text><rect y="1178.6" width="24.3" height="6.2"/><text x="12.2" y="1183.2">2 L</text><rect y="1184.9" width="24.3" height="6.2"/><text x="12.2" y="1189.5">2 R</text></g>
<g class="n" id="JV" transform="translate(3.3,0)"><rect y="1198.6" width="24.3" height="6.2"/><text x="12.2" y="1203.2">JV</text><rect y="1205.2" width="24.3" height="6.2"/><text x="12.2" y="1209.8">L</text><rect y="1211.4" width="24.3" height="6.2"/><text x="12.2" y="1216">R</text></g>
<g class="n" id="MPH" transform="translate(3.3,0)"><rect y="1225.2" width="24.3" height="6.2"/><text x="12.2" y="1229.8">MPH</text><rect y="1231.6" width="24.3" height="6.2"/><text x="12.2" y="1236.2">MAIN L</text><rect y="1237.9" width="24.3" height="6.2"/><text x="12.2" y="1242.5">MAIN R</text><rect y="1243.9" width="24.3" height="6.2"/><text x="12.2" y="1248.5">1 L</text><rect y="1250.2" width="24.3" height="6.2"/><text x="12.2" y="1254.8">1 R</text></g>

<g class="n" id="GSY" transform="translate(3.3,0)"><rect class="d" x="-.8" y="1272" width="25.8" height="46"/><rect y="1272.9" width="24.3" height="6.2"/><text x="12.2" y="1277.5">GSY</text><rect y="1279.2" width="24.3" height="6.2"/><text x="12.2" y="1283.8">AUX1</text><rect y="1285.5" width="24.3" height="6.2"/><text x="12.2" y="1290.1">AUX2</text><rect y="1291.7" width="24.3" height="6.2"/><text x="12.2" y="1296.3">AUX3</text><rect y="1298" width="24.3" height="6.2"/><text x="12.2" y="1302.6">AUX4</text><rect y="1304.3" width="24.3" height="6.2"/><text x="12.2" y="1308.9">AUX5</text><rect y="1310.6" width="24.3" height="6.2"/><text x="12.2" y="1315.2">AUX6</text></g>

<g class="n" id="PX1A" transform="translate(126,0)"><rect class="p" y="1004.9" width="25" height="156.7" style="stroke:#ccc"/><text x="12.5" y="1009.5">PX3000 1A</text>
<rect y="1011.2" width="25" height="6.2"/><text x="12.5" y="1015.8">1</text><rect y="1017.5" width="25" height="6.2"/><text x="12.5" y="1022.1">2</text><rect y="1023.7" width="25" height="6.2"/><text x="12.5" y="1028.3">3</text><rect y="1030" width="25" height="6.2"/><text x="12.5" y="1034.6">4</text><rect y="1036.3" width="25" height="6.2"/><text x="12.5" y="1040.9">5</text><rect y="1042.6" width="25" height="6.2"/><text x="12.5" y="1047.2">6</text><rect y="1048.8" width="25" height="6.2"/><text x="12.5" y="1053.4">7</text><rect y="1055.1" width="25" height="6.2"/><text x="12.5" y="1059.7">8</text><rect y="1061.4" width="25" height="6.2"/><text x="12.5" y="1066">9</text><rect y="1067.6" width="25" height="6.2"/><text x="12.5" y="1072.2">10</text><rect y="1073.9" width="25" height="6.2"/><text x="12.5" y="1078.5">11</text><rect y="1080.2" width="25" height="6.2"/><text x="12.5" y="1084.8">12</text><rect y="1086.4" width="25" height="6.2"/><text x="12.5" y="1091">13</text><rect y="1092.7" width="25" height="6.2"/><text x="12.5" y="1097.3">14</text><rect y="1099" width="25" height="6.2"/><text x="12.5" y="1103.6">15</text><rect y="1105.3" width="25" height="6.2"/><text x="12.5" y="1109.9">16</text><rect y="1111.5" width="25" height="6.2"/><text x="12.5" y="1116.1">17</text><rect y="1117.8" width="25" height="6.2"/><text x="12.5" y="1122.4">18</text><rect y="1124.1" width="25" height="6.2"/><text x="12.5" y="1128.7">19</text><rect y="1130.3" width="25" height="6.2"/><text x="12.5" y="1134.9">20</text><rect y="1136.6" width="25" height="6.2"/><text x="12.5" y="1141.2">21</text><rect y="1142.9" width="25" height="6.2"/><text x="12.5" y="1147.5">22</text><rect y="1149.1" width="25" height="6.2"/><text x="12.5" y="1153.7">23</text><rect y="1155.4" width="25" height="6.2"/><text x="12.5" y="1160">24</text></g>

<g class="n" id="PX1B" transform="translate(126,0)"><rect class="p" y="1169.2" width="25" height="156.6"/><text x="12.5" y="1173.8">PX3000 1B</text>
<rect y="1175.2" width="25" height="6.2"/><text x="12.5" y="1179.8">1</text><rect y="1181.5" width="25" height="6.2"/><text x="12.5" y="1186.1">2</text><rect y="1187.7" width="25" height="6.2"/><text x="12.5" y="1192.3">3</text><rect y="1194" width="25" height="6.2"/><text x="12.5" y="1198.6">4</text><rect y="1200.3" width="25" height="6.2"/><text x="12.5" y="1204.9">5</text><rect y="1206.6" width="25" height="6.2"/><text x="12.5" y="1211.2">6</text><rect y="1212.8" width="25" height="6.2"/><text x="12.5" y="1217.4">7</text><rect y="1219.1" width="25" height="6.2"/><text x="12.5" y="1223.7">8</text><rect y="1225.4" width="25" height="6.2"/><text x="12.5" y="1230">9</text><rect y="1231.6" width="25" height="6.2"/><text x="12.5" y="1236.2">10</text><rect y="1237.9" width="25" height="6.2"/><text x="12.5" y="1242.5">11</text><rect y="1244.2" width="25" height="6.2"/><text x="12.5" y="1248.8">12</text><rect y="1250.4" width="25" height="6.2"/><text x="12.5" y="1255">13</text><rect y="1256.7" width="25" height="6.2"/><text x="12.5" y="1261.3">14</text><rect y="1263" width="25" height="6.2"/><text x="12.5" y="1267.6">15</text><rect y="1269.3" width="25" height="6.2"/><text x="12.5" y="1273.9">16</text><rect y="1275.5" width="25" height="6.2"/><text x="12.5" y="1280.1">17</text><rect y="1281.8" width="25" height="6.2"/><text x="12.5" y="1286.4">18</text><rect y="1288.1" width="25" height="6.2"/><text x="12.5" y="1292.7">19</text><rect y="1294.3" width="25" height="6.2"/><text x="12.5" y="1298.9">20</text><rect y="1300.6" width="25" height="6.2"/><text x="12.5" y="1305.2">21</text><rect y="1306.9" width="25" height="6.2"/><text x="12.5" y="1311.5">22</text><rect y="1313.1" width="25" height="6.2"/><text x="12.5" y="1317.7">23</text><rect y="1319.4" width="25" height="6.2"/><text x="12.5" y="1324">24</text></g>

<g class="n" id="GSX" transform="translate(249.5,0)"><rect class="d" x="-.8" y="1117" width="26" height="45"/><rect y="1117.8" width="24.5" height="6.2"/><text x="12.2" y="1122.4">GSX</text><rect y="1124.1" width="24.5" height="6.2"/><text x="12.2" y="1128.7">AUX1</text><rect y="1130.3" width="24.5" height="6.2"/><text x="12.2" y="1134.9">AUX2</text><rect y="1136.6" width="24.5" height="6.2"/><text x="12.2" y="1141.2">AUX3</text><rect y="1142.9" width="24.5" height="6.2"/><text x="12.2" y="1147.5">AUX4</text><rect y="1149.1" width="24.5" height="6.2"/><text x="12.2" y="1153.7">AUX5</text><rect y="1155.4" width="24.5" height="6.2"/><text x="12.2" y="1160">AUX6</text></g>

<g class="n" id="ESQ" transform="translate(249.5,0)"><rect class="s" x="-1" y="1168" width="26" height="100"/><rect y="1169.2" width="24.5" height="6.2"/><text x="12.2" y="1173.8">ESQ</text><rect y="1175.2" width="24.5" height="6.2"/><text x="12.2" y="1179.8">L</text><rect y="1181.6" width="24.5" height="6.2"/><text x="12.2" y="1186.2">R</text></g>
<g class="n" id="V30" transform="translate(249.5,0)"><rect y="1195.6" width="24.5" height="6.2"/><text x="12.2" y="1200.2">V30</text><rect y="1201.6" width="24.5" height="6.2"/><text x="12.2" y="1206.2">L</text><rect y="1207.9" width="24.5" height="6.2"/><text x="12.2" y="1212.5">R</text></g>
<g class="n" id="AN" transform="translate(249.5,0)"><rect y="1221.6" width="24.5" height="6.2"/><text x="12.2" y="1226.2">AN</text><rect y="1227.9" width="24.5" height="6.2"/><text x="12.2" y="1232.5">L</text><rect y="1233.9" width="24.5" height="6.2"/><text x="12.2" y="1238.5">R</text></g>
<g class="n" id="BS1" transform="translate(249.5,0)"><rect y="1247.9" width="24.5" height="6.2"/><text x="12.2" y="1252.5">BS1</text><rect y="1254.2" width="24.5" height="6.2"/><text x="12.2" y="1258.8">IN</text><rect y="1260.6" width="24.5" height="6.2"/><text x="12.2" y="1265.2">OUT</text></g>

<g id="links">
<g class="u"><path d="M28 175.7H126"/><path d="M28 182H126"/><path d="M28 188.2H126"/><path d="M28 194.5H126"/><path d="M28 200.8H126"/><path d="M28 207H126"/></g>
<g class="e"><path d="M28 213.3H126"/><path d="M28 219.6H126"/><path d="M28 225.9H126"/><path d="M28 232.1H126"/><path d="M28 238.4H126"/><path d="M28 244.7H126"/><path d="M28 250.9H126"/><path d="M28 257.2H126"/><path d="M28 263.5H126"/></g>
<g class="o"><path d="M28 269.8H126"/><path d="M28 276H126"/><path d="M28 282.3H126"/><path d="M28 288.6H126"/><path d="M28 294.8H126"/><path d="M28 301.1H126"/><path d="M28 307.4H126"/></g>
<g class="y"><path d="M151 313.7H249.3"/><path d="M151 320H249.3"/><path d="M151 326.3H249.3"/><path d="M151 332.6H249.3"/></g>
<g class="c"><path d="M273.8 188.4H372"/><path d="M273.8 194.7H372"/><path d="M273.8 200.9H372"/><path d="M273.8 207.2H372"/><path d="M273.8 213.5H372"/><path d="M273.8 219.7H372"/><path d="M273.8 226H372"/><path d="M273.8 232.3H372"/></g>
<g class="u"><path d="M273.8 238.6H372"/><path d="M273.8 244.8H372"/></g>
<g class="y"><path d="M273.8 251.1H372"/><path d="M273.8 257.4H372"/><path d="M273.8 263.6H372"/><path d="M273.8 269.9H372"/></g>
<g class="k"><path d="M372 276.2H274"/><path d="M372 282.5H274"/><path d="M372 288.7H274"/><path d="M372 295H274"/><path d="M372 301.3H274"/><path d="M372 307.5H274"/></g>

<g class="w"><path d="M28 432.5C77 432.5 77 380.3 126.5 380.3"/><path d="M28 438.7C77 438.7 77 386.7 126.5 386.7"/><path d="M28 445C77 445 77 431.7 126.5 431.7"/><path d="M28 451.3C77 451.3 77 438 126.5 438"/>
<path d="M151 393C200 393 200 457.5 249.3 457.5"/><path d="M151 399.2C200 399.2 200 463.7 249.3 463.7"/><path d="M151 405.4C200 405.4 200 470 249.3 470"/><path d="M151 411.6C200 411.6 200 476.3 249.3 476.3"/></g>
<g class="k"><path d="M28 382.3C77 382.3 77 346.5 126 346.5"/><path d="M28 388.6C77 388.6 77 346.5 126 346.5"/><path d="M28 394.8C77 394.8 77 360.5 126 360.5"/><path d="M28 401.1C77 401.1 77 360.5 126 360.5"/><path d="M28 407.4C77 407.4 77 380.3 126.5 380.3"/><path d="M28 413.7C77 413.7 77 386.7 126.5 386.7"/>
<path d="M126.5 431.7L28.5 432.5"/><path d="M126.5 438L28.5 438.7"/>
<path d="M28 457.5L126.5 458"/><path d="M28 463.8L126.5 464.2"/><path d="M28 470.1L126.5 470.5"/><path d="M28 476.4L126.5 477"/>
<path d="M28 482.6C77 482.6 77 515.7 126 515.7"/><path d="M28 488.9C77 488.9 77 515.7 126 515.7"/><path d="M28 495.2C77 495.2 77 529.7 126 529.7"/><path d="M28 501.4C77 501.4 77 529.7 126 529.7"/>
<path d="M151 346.5C200 346.5 200 407.3 249.3 407.3"/><path d="M151 346.5C200 346.5 200 413.6 249.3 413.6"/><path d="M151 360.5C200 360.5 200 419.8 249.3 419.8"/><path d="M151 360.5C200 360.5 200 426.1 249.3 426.1"/>
<path d="M151 393C200 393 200 432.4 249.3 432.4"/><path d="M151 399.2C200 399.2 200 438.7 249.3 438.7"/><path d="M151 405.4C200 405.4 200 444.9 249.3 444.9"/><path d="M151 411.6C200 411.6 200 451.2 249.3 451.2"/>
<path d="M151 483L249.3 482.5"/><path d="M151 489.4L249.3 488.8"/><path d="M151 495.7L249.3 495.1"/><path d="M151 502L249.3 501.4"/>
<path d="M151 515.7C200 515.7 200 507.6 249.3 507.6"/><path d="M151 515.7C200 515.7 200 513.9 249.3 513.9"/><path d="M151 529.7C200 529.7 200 520.2 249.3 520.2"/><path d="M151 529.7C200 529.7 200 526.4 249.3 526.4"/>
<path d="M151 544.7C200 544.7 200 532.7 249.3 532.7"/><path d="M151 544.7C200 544.7 200 539 249.3 539"/><path d="M151 544.7C200 544.7 200 545.2 249.3 545.2"/><path d="M151 544.7C200 544.7 200 551.5 249.3 551.5"/>

<path d="M28 651.3C77 651.3 77 564.7 126.5 564.7"/><path d="M28 657.6C77 657.6 77 571 126.5 571"/><path d="M28 663.8C77 663.8 77 603.7 126.5 603.7"/><path d="M28 676.4C77 676.4 77 636.3 126.5 636.3"/><path d="M28 688.9C77 688.9 77 668.7 126.5 668.7"/><path d="M28 701.5H126.5"/><path d="M28 707.7C77 707.7 77 728 126.5 728"/><path d="M28 714C77 714 77 754.3 126.5 754.3"/><path d="M28 720.3C77 720.3 77 760.5 126.5 760.5"/><path d="M28 776.7C77 776.7 77 948.7 126.5 948.7"/><path d="M28 789.2C77 789.2 77 981.3 126.5 981.3"/>
<path d="M150.5 577.3C200 577.3 200 717.3 249.3 717.3"/><path d="M150.5 583.5C200 583.5 200 723.6 249.3 723.6"/><path d="M150.5 610C200 610 200 729.8 249.3 729.8"/><path d="M150.5 616.3C200 616.3 200 736.1 249.3 736.1"/><path d="M150.5 642.7C200 642.7 200 742.4 249.3 742.4"/><path d="M150.5 648.9C200 648.9 200 748.7 249.3 748.7"/><path d="M150.5 675C200 675 200 754.9 249.3 754.9"/><path d="M150.5 681.3C200 681.3 200 761.2 249.3 761.2"/><path d="M150.5 708C200 708 200 767.5 249.3 767.5"/><path d="M150.5 734.3C200 734.3 200 773.7 249.3 773.7"/><path d="M150.5 766.7C200 766.7 200 780 249.3 780"/><path d="M150.5 773C200 773 200 786.3 249.3 786.3"/>
<path d="M150.5 955C200 955 200 842.7 249.3 842.7"/><path d="M150.5 961C200 961 200 849 249.3 849"/><path d="M150.5 987.7C200 987.7 200 855.2 249.3 855.2"/><path d="M150.5 994C200 994 200 861.5 249.3 861.5"/></g>
<g class="v"><path d="M28 726.5C77 726.5 77 793 126.5 793"/><path d="M28 732.8C77 732.8 77 799.3 126.5 799.3"/><path d="M28 739.1C77 739.1 77 832 126.5 832"/><path d="M28 745.4C77 745.4 77 838.3 126.5 838.3"/>
<path d="M150.5 805.7C200 805.7 200 792.5 249.3 792.5"/><path d="M150.5 811.9C200 811.9 200 798.8 249.3 798.8"/><path d="M150.5 844.7C200 844.7 200 805.1 249.3 805.1"/><path d="M150.5 851C200 851 200 811.4 249.3 811.4"/></g>
<g class="a"><path d="M28 751.6C77 751.6 77 871 126.5 871"/><path d="M28 757.9C77 757.9 77 877.1 126.5 877.1"/><path d="M28 764.2C77 764.2 77 909.7 126.5 909.7"/><path d="M28 770.4C77 770.4 77 916 126.5 916"/>
<path d="M150.5 883.7C200 883.7 200 817.6 249.3 817.6"/><path d="M150.5 889.9C200 889.9 200 823.9 249.3 823.9"/><path d="M150.5 922.3C200 922.3 200 830.2 249.3 830.2"/><path d="M150.5 928.6C200 928.6 200 836.4 249.3 836.4"/></g>

<g class="w"><path d="M27.6 1130.7C77 1130.7 77 1089.5 126 1089.5"/><path d="M27.6 1137C77 1137 77 1095.8 126 1095.8"/><path d="M27.6 1143.3C77 1143.3 77 1102.1 126 1102.1"/><path d="M27.6 1149.5C77 1149.5 77 1108.4 126 1108.4"/>
<path d="M27.6 1169.3C77 1169.3 77 1253.5 126 1253.5"/><path d="M27.6 1175.5C77 1175.5 77 1259.8 126 1259.8"/><path d="M27.6 1181.7C77 1181.7 77 1266.1 126 1266.1"/><path d="M27.6 1188C77 1188 77 1272.4 126 1272.4"/><path d="M27.6 1208.3C77 1208.3 77 1278.6 126 1278.6"/><path d="M27.6 1214.5C77 1214.5 77 1284.9 126 1284.9"/></g>
<g class="k"><path d="M27.6 1000.3C77 1000.3 77 1014.3 126 1014.3"/><path d="M27.6 1006.7C77 1006.7 77 1020.6 126 1020.6"/><path d="M27.6 1012.7C77 1012.7 77 1026.8 126 1026.8"/><path d="M27.6 1019C77 1019 77 1033.1 126 1033.1"/><path d="M27.6 1039.3H126"/><path d="M27.6 1045.4H126"/><path d="M27.6 1051.8H126"/><path d="M27.6 1058.1H126"/>
<path d="M27.6 1078C77 1078 77 1064.5 126 1064.5"/><path d="M27.6 1084.3C77 1084.3 77 1070.7 126 1070.7"/><path d="M27.6 1104.3C77 1104.3 77 1077 126 1077"/><path d="M27.6 1110.5C77 1110.5 77 1083.3 126 1083.3"/>
<path d="M27.6 1208.3C77 1208.3 77 1114.6 126 1114.6"/><path d="M27.6 1214.5C77 1214.5 77 1120.9 126 1120.9"/>
<path d="M27.6 1130.7C77 1130.7 77 1228.5 126 1228.5"/><path d="M27.6 1137C77 1137 77 1234.7 126 1234.7"/><path d="M27.6 1143.3C77 1143.3 77 1241 126 1241"/><path d="M27.6 1149.5C77 1149.5 77 1247.3 126 1247.3"/>
<path d="M249.5 1178.3H151"/><path d="M249.5 1184.7H151"/><path d="M249.5 1204.7C200 1204.7 200 1190.8 151 1190.8"/><path d="M249.5 1211C200 1211 200 1197.1 151 1197.1"/><path d="M249.5 1231C200 1231 200 1203.4 151 1203.4"/><path d="M249.5 1237C200 1237 200 1209.7 151 1209.7"/><path d="M151 1215.9C200 1215.9 200 1257.3 249.5 1257.3"/><path d="M249.5 1263.7C200 1263.7 200 1222.2 151 1222.2"/></g>
<g class="m"><path d="M27.6 1169.3C77 1169.3 77 1089.5 126 1089.5"/><path d="M27.6 1175.5C77 1175.5 77 1095.8 126 1095.8"/><path d="M27.6 1181.7C77 1181.7 77 1102.1 126 1102.1"/><path d="M27.6 1188C77 1188 77 1108.4 126 1108.4"/>
<path d="M27.6 1234.7C77 1234.7 77 1253.5 126 1253.5"/><path d="M27.6 1241C77 1241 77 1259.8 126 1259.8"/><path d="M27.6 1247C77 1247 77 1266.1 126 1266.1"/><path d="M27.6 1253.3C77 1253.3 77 1272.4 126 1272.4"/></g>
<g class="q"><path d="M151 1127.2H249.5"/><path d="M151 1133.4H249.5"/><path d="M151 1139.7H249.5"/><path d="M151 1146H249.5"/><path d="M151 1152.2H249.5"/><path d="M151 1158.5H249.5"/></g>
<g class="z"><path d="M126 1291.2C77 1291.2 77 1282.3 28 1282.3"/><path d="M126 1297.4C77 1297.4 77 1288.6 28 1288.6"/><path d="M126 1303.7C77 1303.7 77 1294.8 28 1294.8"/><path d="M126 1310C77 1310 77 1301.1 28 1301.1"/><path d="M126 1316.2C77 1316.2 77 1307.4 28 1307.4"/><path d="M126 1322.5C77 1322.5 77 1313.7 28 1313.7"/></g>
</g>
<g id="labels">
<text class="l" x="68" y="180.2">MTRS8-1</text><text class="l" x="69" y="217.4">MTS8-1</text><text class="l" x="70" y="274.2">MTS8-2</text>
<text class="l" x="314" y="192.4">MTXS8-2</text><text class="l" x="315" y="242.7">MTXS8-1</text><text class="l" x="315" y="255.2">MTXS8-3</text><text class="l" x="193" y="336.7">MTXS8-3</text>
<text class="l" x="68.5" y="763.7">MTRS8-3</text><text class="l" x="68" y="815.4">MTRS8-4</text><text class="l" x="191" y="802.7">MTRS8-3</text><text class="l" x="191" y="854.4">MTRS8-4</text>
<text class="l" x="70" y="1132.7">MTS8-3</text><text class="l" x="70" y="1267.2">MTS8-4</text><text class="l" x="70" y="1322.2">MTS8-2</text><text class="l" x="192.7" y="1161.7">MTS8-1</text>
</g>
</svg>
